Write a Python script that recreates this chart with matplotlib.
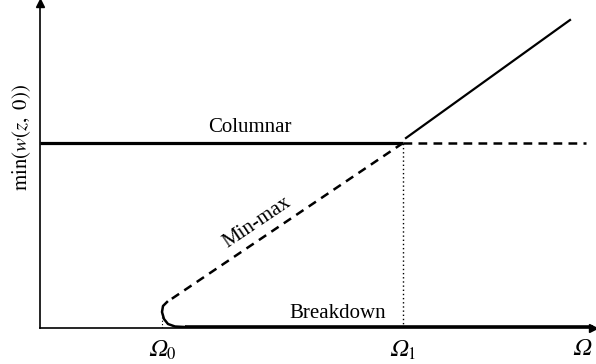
"""Diagrama de bifurcación esquemático: min(w(z, 0)) frente a Omega."""

import matplotlib.pyplot as plt

plt.rcParams['font.family'] = ['Liberation Serif', 'DejaVu Serif']
plt.rcParams['mathtext.fontset'] = 'stix'

# valores (unidades arbitrarias)
omega_0 = 1.22
omega_1 = 3.63
omega_end = 5.42
omega_labels = ['$\U0001D6FA_0$', '$\U0001D6FA_1$', '$\U0001D6FA$']

columnar_x = [0.0, 3.63]
columnar_y = [1.85, 1.85]
columnar_dash_x = [3.63, 5.46]
columnar_dash_y = [1.85, 1.85]

upper_x = [3.66, 5.30]
upper_y = [1.90, 3.08]

minmax_x = [3.63, 1.27]
minmax_y = [1.85, 0.26]

turn_x = [1.27, 1.23, 1.22, 1.24, 1.28, 1.35, 1.45]
turn_y = [0.26, 0.22, 0.16, 0.09, 0.04, 0.015, 0.01]

breakdown_x = [1.45, 5.53]
breakdown_y = [0.01, 0.01]

fig = plt.figure(figsize=(5.96, 3.64), dpi=100)
ax = fig.add_axes([40 / 596, 36 / 364, 553 / 596, 325 / 364])
ax.set_xlim(0, 5.53)
ax.set_ylim(0, 3.25)

ax.plot(columnar_x, columnar_y, color='black', linewidth=2.3, solid_capstyle='butt')
ax.plot(columnar_dash_x, columnar_dash_y, color='black', linewidth=1.8,
        linestyle=(0, (3.5, 2.5)))
ax.plot(upper_x, upper_y, color='black', linewidth=1.6)
ax.plot(minmax_x, minmax_y, color='black', linewidth=1.8, linestyle=(0, (3.5, 2.5)))
ax.plot(turn_x, turn_y, color='black', linewidth=1.8)
ax.plot(breakdown_x, breakdown_y, color='black', linewidth=2.6, solid_capstyle='butt')
ax.plot([omega_1, omega_1], [0, 1.85], color='black', linewidth=1.0,
        linestyle=(0, (1, 2)))
ax.plot([omega_0, omega_0], [0, 0.16], color='black', linewidth=0.8,
        linestyle=(0, (1, 2)))

ax.text(2.10, 2.00, 'Columnar', fontsize=15, ha='center', va='center')
ax.text(2.17, 1.05, 'Min-max', fontsize=15, ha='center', va='center', rotation=34)
ax.text(2.98, 0.15, 'Breakdown', fontsize=15, ha='center', va='center')

ax.set_xticks([omega_0, omega_1, omega_end])
ax.set_xticklabels(omega_labels, fontsize=17)
ax.set_yticks([])
ax.tick_params(axis='x', length=0, pad=8)
ax.set_ylabel(r'$\mathrm{min}(w(z,\ 0))$', fontsize=15)
ax.yaxis.set_label_coords(-0.013, 0.585)

for side in ['top', 'right']:
    ax.spines[side].set_visible(False)
for side in ['left', 'bottom']:
    ax.spines[side].set_linewidth(1.2)

# flechas de los ejes
ax.plot(1, 0, '>', color='black', markersize=6, transform=ax.transAxes, clip_on=False)
ax.plot(0, 1, '^', color='black', markersize=6, transform=ax.transAxes, clip_on=False)

fig.savefig('out.png', dpi=100)
plt.close(fig)
